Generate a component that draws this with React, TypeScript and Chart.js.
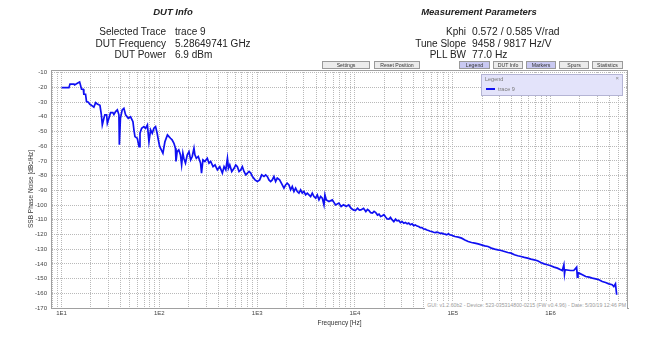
import React, { useEffect, useRef } from 'react';
import { Chart, registerables } from 'chart.js';

Chart.register(...registerables);

// ---------- data ----------
const freqHz = [
  10, 11.9, 12.2, 13.4, 13.6, 14.5, 15.3, 15.6, 16.0, 16.7, 16.9, 17.6, 18.0, 18.8, 19.5, 20.6,
  21.4, 22.3, 23.2, 24.7, 25.5, 26.1, 27.1, 27.7, 28.9, 29.4, 30.5, 31.7, 33.5, 34.3, 35.7, 37.2,
  38.6, 39.0, 40.0, 41.7, 43.4, 45.2, 48.1, 50.8, 53.7, 55.0, 56.3, 59.5, 62.0, 63.4, 65.9, 69.6,
  72.4, 75.5, 78.3, 81.4, 84.6, 88.0, 91.5, 95.0, 97.5, 100.6, 103, 108.8, 114, 121, 125.5, 130,
  135, 141, 146, 148, 152, 158, 164.5, 169, 174, 178, 185, 193, 201, 209, 217, 226,
  231, 239, 250, 264, 270, 279, 292, 309, 322, 335, 354, 371, 392, 415, 441, 459,
  478, 497, 509, 525, 550, 581, 604, 628, 653, 680, 706, 734, 765, 795, 827, 861,
  895, 951, 1006, 1062, 1113, 1174, 1222, 1270, 1321, 1374, 1428, 1485, 1545, 1607, 1697, 1808,
  1880, 1955, 2033, 2115, 2200, 2287, 2380, 2475, 2574, 2677, 2785, 2896, 3011, 3133, 3258, 3388,
  3523, 3665, 3811, 3964, 4123, 4288, 4459, 4638, 4823, 4934, 5100, 5425, 5864, 6340, 6850, 7230,
  7640, 8130, 8640, 9140, 9650, 10120, 10640, 11100, 11500, 12250, 12930, 13450, 13960, 14500, 15100, 15700,
  16320, 17000, 17640, 18300, 19070, 19800, 20600, 21400, 22270, 23100, 24070, 25000, 26020, 27000, 28120, 29200,
  30400, 31600, 32860, 34200, 35510, 36900, 38380, 39900, 41490, 43100, 44850, 46600, 48470, 50400, 52390, 54500,
  56620, 58900, 61200, 63600, 66150, 68800, 71500, 74300, 77280, 80300, 83520, 86800, 90270, 93900, 97570, 101500,
  105500, 114000, 123200, 133200, 143900, 155600, 168100, 181700, 196400, 212300, 229500, 248000, 268100, 289800, 313200, 338500,
  365900, 395500, 427500, 462000, 499400, 539700, 583400, 630500, 681500, 736600, 796200, 860600, 930200, 1005000, 1087000, 1175000,
  1270000, 1320000, 1370000, 1390000, 1410000, 1601000, 1730000, 1850000, 1880000, 1910000, 1961000, 2120000, 2291000, 2477000, 2677000, 2893000,
  3128000, 3381000, 3654000, 3950000, 4270000, 4440000, 4615000, 4750000,
];

const phaseNoiseDbc = [
  -20.2, -20.2, -17.8, -17.8, -18.3, -17.2, -16.4, -18.3, -21.3, -21.3, -24.7, -24.7, -29.7, -30.1, -31.5, -32.6,
  -33.5, -30.4, -31.3, -32.2, -38.3, -45.5, -41, -38.7, -38.7, -44.4, -41, -37.2, -37.2, -38.5, -36.5, -35.3,
  -38.7, -59, -41, -35.3, -34.2, -38.7, -41, -40, -43.3, -49, -53.5, -54.6, -60.3, -51.2, -47.8, -46.7,
  -47.8, -45.5, -56.9, -48.9, -51.2, -47.8, -46.7, -51.2, -55.5, -60, -61.4, -64.8, -57, -52.3, -53.5, -54.6,
  -55.7, -58, -61.4, -70.4, -63.7, -62.5, -65.9, -72.7, -64.8, -68.2, -71.5, -65.9, -63.7, -69.3, -67, -61.4,
  -65.9, -68.2, -67, -71.5, -78.3, -69.3, -70.4, -68.2, -71.5, -70.4, -73.9, -72.7, -76.1, -73.9, -78.3, -73.9,
  -76.1, -68.2, -75, -72.7, -77.2, -75, -72.7, -73.9, -77.2, -76.1, -73.9, -77.2, -79.5, -78.3, -77.2, -78.3,
  -80.6, -82.9, -84, -82.9, -79.5, -80.6, -79.5, -80.6, -82.9, -84, -82.9, -80.6, -84, -81.7, -82.9, -86.3,
  -88.5, -86.3, -85.1, -86.3, -89.7, -87.4, -90.8, -88.5, -90.8, -91.9, -89.7, -91.9, -90.8, -93.1, -91.9, -93.1,
  -94.2, -91.9, -94.2, -95.3, -93.1, -96.5, -94.2, -95.3, -99.9, -93.1, -96.5, -97.6, -96.5, -99.9, -98.7, -101,
  -99.9, -101, -99.9, -102.2, -103.3, -103.8, -102.2, -103.5, -103.3, -102.2, -104.4, -103, -103.8, -105.2, -105.5, -104.3,
  -105.1, -106.8, -106.2, -107.8, -107.3, -106.5, -108.2, -109.5, -109.6, -108.4, -110.1, -111.3, -109.6, -110.8, -110.5, -112,
  -111.2, -112.4, -111.9, -112.8, -112.3, -113.4, -112.8, -114, -113.5, -114.3, -114.6, -115.4, -115.3, -116.2, -116.4, -117,
  -117.3, -117.8, -118, -118.5, -118.7, -118.4, -118.7, -119.3, -119.1, -119.6, -119.8, -120.3, -119.6, -120.4, -120.5, -121,
  -121.4, -121.8, -122.5, -123.7, -124.8, -125.5, -125.9, -126.4, -127.1, -127.8, -128.2, -129.3, -130, -130.5, -130.9, -131.6,
  -132.3, -132.7, -133.8, -134.5, -135, -135.6, -136.1, -136.8, -137.3, -137.9, -139.1, -140, -140.6, -141.3, -142.2, -142.9,
  -144, -144.5, -140.6, -146.8, -144, -144.5, -144.5, -142.2, -149, -146, -146.3, -147.4, -148.6, -149, -149.7, -150.2,
  -150.8, -152, -152.7, -153.6, -154.2, -155.4, -153.6, -161,
];

const traceName = 'trace 9';
const xMin = 7.8;
const xMax = 6.2e6;
const yMin = -170;
const yMax = -8.2;
const yTickValues = [-170, -160, -150, -140, -130, -120, -110, -100, -90, -80, -70, -60, -50, -40, -30, -20, -10];
const xDecades = [1, 10, 100, 1000, 10000, 100000, 1000000];
const xDecadeLabels = ['1E0', '1E1', '1E2', '1E3', '1E4', '1E5', '1E6'];
const xMultipliers = [1, 2, 3, 4, 5, 6, 7, 8, 9];

const dutInfoLabels = ['Selected Trace', 'DUT Frequency', 'DUT Power'];
const dutInfoValues = ['trace 9', '5.28649741 GHz', '6.9 dBm'];
const measLabels = ['Kphi', 'Tune Slope', 'PLL BW'];
const measValues = ['0.572 / 0.585 V/rad', '9458 / 9817 Hz/V', '77.0 Hz'];
const buttonLabels = ['Settings', 'Reset Position', 'Legend', 'DUT Info', 'Markers', 'Spurs', 'Statistics'];
const buttonActive = [false, false, true, false, true, false, false];
const footnote = 'GUI: v1.2.60b2 - Device: 523-035314800-0215 (FW v0.4.96) - Date: 5/30/19 12:46 PM';

// ---------- layout (pixels) ----------
const W = 649;
const H = 358;
const FONT = '"Liberation Sans", Arial, sans-serif';
const buttonBoxes = [
  [322, 370], [374, 420], [459, 490], [493, 523], [526, 556], [559, 589], [592, 623],
];

const xTickList: { value: number; label: string }[] = [];
xDecades.forEach((d, di) => {
  xMultipliers.forEach((m) => {
    const v = m * d;
    if (v >= xMin && v <= xMax) xTickList.push({ value: v, label: m === 1 ? xDecadeLabels[di] : '' });
  });
});

const borderPlugin = {
  id: 'areaBorder',
  afterDraw(chart: any) {
    const { ctx, chartArea } = chart;
    ctx.save();
    ctx.strokeStyle = '#a0a0a0';
    ctx.lineWidth = 1;
    ctx.strokeRect(Math.round(chartArea.left) + 0.5, Math.round(chartArea.top) + 0.5,
      Math.round(chartArea.right - chartArea.left) - 1, Math.round(chartArea.bottom - chartArea.top));
    ctx.restore();
  },
};

export default function App() {
  const canvasRef = useRef<HTMLCanvasElement | null>(null);

  useEffect(() => {
    if (!canvasRef.current) return;
    const data = freqHz.map((f, i) => ({ x: f, y: phaseNoiseDbc[i] }));
    const chart = new Chart(canvasRef.current, {
      type: 'line',
      data: {
        datasets: [{
          label: traceName,
          data,
          borderColor: '#1010f2',
          backgroundColor: '#1010f2',
          borderWidth: 1.7,
          pointRadius: 0,
          tension: 0,
        }],
      },
      options: {
        responsive: false,
        animation: false,
        events: [],
        layout: { padding: { left: 0, right: 21, top: 70, bottom: 20 } },
        plugins: { legend: { display: false }, tooltip: { enabled: false } },
        scales: {
          x: {
            type: 'logarithmic',
            min: xMin,
            max: xMax,
            afterFit: (s: any) => { s.height = 30; },
            afterBuildTicks: (s: any) => { s.ticks = xTickList.map((t) => ({ value: t.value })); },
            ticks: {
              autoSkip: false,
              maxRotation: 0,
              padding: 2,
              color: '#444',
              font: { size: 6, family: FONT },
              callback: (v: any) => {
                const t = xTickList.find((q) => Math.abs(q.value - v) < 1e-6 * q.value);
                return t ? t.label : '';
              },
            },
            grid: { color: '#b9b9b9', drawTicks: false, lineWidth: 1 },
            border: { display: true, color: '#a0a0a0', dash: [1, 1] },
            title: {
              display: true,
              text: 'Frequency [Hz]',
              color: '#333',
              font: { size: 6.5, family: FONT },
              padding: { top: 0, bottom: 10.5 },
            },
          },
          y: {
            type: 'linear',
            min: yMin,
            max: yMax,
            afterFit: (s: any) => { s.width = 51; },
            afterBuildTicks: (s: any) => { s.ticks = yTickValues.map((v) => ({ value: v })); },
            ticks: {
              autoSkip: false,
              padding: 4,
              color: '#444',
              font: { size: 6, family: FONT },
              callback: (v: any) => String(v),
            },
            grid: { color: '#b9b9b9', drawTicks: false, lineWidth: 1 },
            border: { display: true, color: '#a0a0a0', dash: [1, 1] },
            title: {
              display: true,
              text: 'SSB Phase Noise [dBc/Hz]',
              color: '#333',
              font: { size: 6.5, family: FONT },
              padding: { top: 27, bottom: 0 },
            },
          },
        },
      },
      plugins: [borderPlugin],
    } as any);
    return () => chart.destroy();
  }, []);

  const rowY = [31.5, 43.5, 55];
  const textStyle = (extra: any): React.CSSProperties => ({
    position: 'absolute',
    fontFamily: FONT,
    fontSize: 10,
    lineHeight: '12px',
    color: '#222',
    whiteSpace: 'nowrap',
    ...extra,
  });

  return (
    <div style={{ position: 'fixed', left: 0, top: 0, width: W, height: H, background: '#fff', overflow: 'hidden' }}>
      <canvas ref={canvasRef} width={W} height={H} style={{ position: 'absolute', left: 0, top: 0, width: W, height: H }} />

      <div style={textStyle({ left: 173, top: 6, fontSize: 9.5, transform: 'translateX(-50%)', fontWeight: 'bold', fontStyle: 'italic' })}>DUT Info</div>
      {dutInfoLabels.map((l, i) => (
        <div key={'dl' + i} style={textStyle({ right: W - 166, top: rowY[i] - 6, textAlign: 'right' })}>{l}</div>
      ))}
      {dutInfoValues.map((v, i) => (
        <div key={'dv' + i} style={textStyle({ left: 175, top: rowY[i] - 6 })}>{v}</div>
      ))}

      <div style={textStyle({ left: 479, top: 6, fontSize: 9.5, transform: 'translateX(-50%)', fontWeight: 'bold', fontStyle: 'italic' })}>Measurement Parameters</div>
      {measLabels.map((l, i) => (
        <div key={'ml' + i} style={textStyle({ right: W - 466, top: rowY[i] - 6, textAlign: 'right' })}>{l}</div>
      ))}
      {measValues.map((v, i) => (
        <div key={'mv' + i} style={textStyle({ left: 472, top: rowY[i] - 6, fontSize: 10.3 })}>{v}</div>
      ))}

      {buttonLabels.map((b, i) => (
        <div key={'b' + i} style={{
          position: 'absolute', left: buttonBoxes[i][0], top: 61, width: buttonBoxes[i][1] - buttonBoxes[i][0],
          height: 8, boxSizing: 'border-box', border: '1px solid #9a9a9a',
          background: buttonActive[i] ? '#c9c9f2' : '#ececec', fontFamily: FONT, fontSize: 5.2,
          lineHeight: '6px', textAlign: 'center', color: '#333', whiteSpace: 'nowrap', overflow: 'hidden',
        }}>{b}</div>
      ))}

      <div style={{
        position: 'absolute', left: 481, top: 74, width: 142, height: 22, boxSizing: 'border-box',
        background: '#e3e3fa', border: '1px solid #b4b4d4',
      }}>
        <div style={{ position: 'absolute', left: 3, top: 1, fontFamily: FONT, fontSize: 5.5, color: '#777', lineHeight: '7px' }}>Legend</div>
        <div style={{ position: 'absolute', right: 3, top: 0, fontFamily: FONT, fontSize: 6, color: '#888', lineHeight: '7px' }}>×</div>
        <div style={{ position: 'absolute', left: 4, top: 13, width: 9, height: 2, background: '#1010f2' }} />
        <div style={{ position: 'absolute', left: 16, top: 10.5, fontFamily: FONT, fontSize: 5.5, color: '#777', lineHeight: '7px' }}>{traceName}</div>
      </div>

      <div style={{
        position: 'absolute', right: W - 627, top: 302, fontFamily: FONT, fontSize: 5.2, color: '#9a9a9a',
        lineHeight: '7px', background: '#fff', paddingLeft: 2, paddingRight: 1, whiteSpace: 'nowrap',
      }}>{footnote}</div>
    </div>
  );
}
